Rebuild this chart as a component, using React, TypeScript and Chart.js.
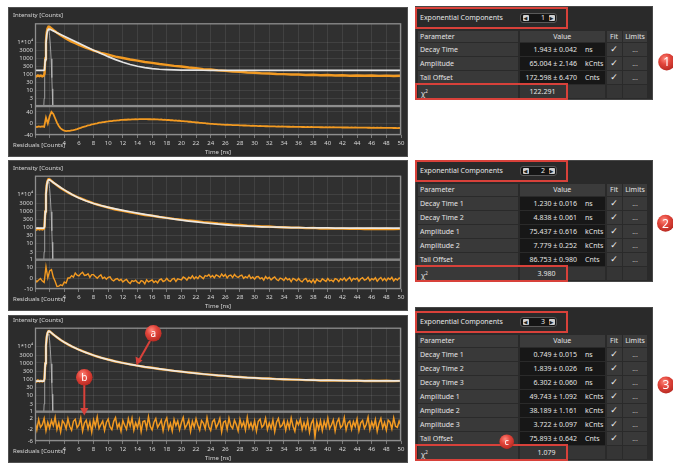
import React, { useEffect, useRef } from "react";
import { Chart, registerables } from "chart.js";

Chart.register(...registerables);

// ---------- measured decay (counts), shared by all three fits ----------
const decayTime = [
  0, 0.2, 0.4, 0.6, 0.8, 1, 1.2,
  1.3, 1.4, 1.5, 1.6, 1.7, 1.8, 1.9, 2,
  2.25, 2.5, 2.75,
  3, 3.5, 4, 4.5, 5, 5.5, 6, 6.5, 7, 7.5, 8, 8.5, 9, 9.5, 10,
  11, 12, 13, 14, 15, 16, 17, 18, 19, 20,
  21, 22, 23, 24, 25, 26, 27, 28, 29, 30,
  31, 32, 33, 34, 35, 36, 37, 38, 39, 40,
  41, 42, 43, 44, 45, 46, 47, 48, 49, 50,
];
const decayCounts = [
  78, 71, 83, 74, 80, 72, 79,
  110, 950, 11500, 41000, 69000, 85000, 91000, 89000,
  72500, 57500, 47200,
  38600, 26500, 19200, 14100, 10700, 8450, 6580, 5360, 4310, 3600, 2960, 2520, 2140, 1870, 1640,
  1240, 1020, 815, 695, 570, 505, 428, 380, 326, 296,
  257, 236, 205, 192, 170, 160, 143, 138, 125, 121,
  111, 110, 101, 100, 94, 95, 88, 91, 84, 87,
  82, 84, 79, 82, 78, 81, 77, 80, 76, 79,
];

// ---------- instrument response ----------
const irfTime = [1.2, 1.25, 1.3, 1.35, 1.4, 1.5, 1.6, 1.7, 1.8, 1.9, 2.0, 2.1, 2.2, 2.3, 2.35, 2.4, 2.45];
const irfCounts = [1, 3, 25, 150, 600, 5000, 21000, 47000, 60000, 50000, 25000, 6500, 900, 60, 12, 2.5, 1];

// ---------- fitted curves (same time grid as the decay) ----------
const fitOneExp = [
  173, 173, 173, 173, 173, 173, 173,
  185, 800, 8200, 29500, 50000, 61500, 65500, 65000,
  57300, 50400, 44360,
  39030, 30210, 23400, 18130, 14050, 10900, 8470, 6590, 5130, 4010, 3140, 2462, 1943, 1543, 1231,
  806, 551, 399, 308, 254, 221, 201, 190, 183, 179,
  176, 175, 174, 173, 173, 173, 173, 173, 173, 173,
  173, 173, 173, 173, 173, 173, 173, 173, 173, 173,
  173, 173, 173, 173, 173, 173, 173, 173, 173, 173,
];
const fitTwoExp = [
  87, 87, 87, 87, 87, 87, 87,
  105, 920, 10500, 38000, 63000, 77000, 83000, 83300,
  69000, 57350, 47750,
  39870, 28080, 20070, 14610, 10850, 8240, 6410, 5100, 4150, 3445, 2911, 2499, 2172, 1908, 1688,
  1347, 1093, 897, 742, 619, 517, 437, 372, 319, 275,
  240, 211, 188, 169, 154, 141, 131, 123, 116, 111,
  106, 103, 100, 97, 95, 94, 93, 91, 91, 90,
  89, 89, 88, 88, 88, 87, 87, 87, 87, 87,
];
const fitThreeExp = [
  76, 76, 76, 76, 76, 76, 76,
  105, 950, 11500, 41000, 69000, 85000, 91000, 90000,
  72600, 58130, 47050,
  38510, 26620, 19100, 14150, 10770, 8370, 6630, 5320, 4340, 3580, 2990, 2526, 2155, 1855, 1615,
  1255, 1004, 822, 687, 581, 499, 432, 376, 331, 292,
  260, 232, 209, 189, 173, 159, 146, 136, 127, 120,
  113, 108, 103, 99, 96, 93, 90, 88, 86, 85,
  84, 82, 82, 81, 80, 79, 79, 78, 78, 78,
];

// ---------- weighted residuals, one value per 0.25 ns channel ----------
const RES_STEP = 0.25;
const residualsOneExp = [
  -11, -12.5, -10, -11.5, -10.5, -12, 20, 0,
  25, 40, 33, 18, 3, -9, -17, -22,
  -25, -26.5, -26, -25.5, -24, -23, -21.5, -19.5,
  -17, -15.5, -12.5, -11, -9.5, -6.5, -5.5, -3.5,
  -2.5, -0.5, 0.5, 2.5, 3, 4.5, 5, 6.5,
  7, 8.3, 8.2, 9.8, 10, 10.9, 11, 12,
  12, 12.9, 12.8, 13.6, 13.3, 14.2, 13.8, 14.7,
  14.3, 15, 14.6, 15.2, 14.6, 15.1, 14.4, 14.9,
  14.2, 14.7, 13.8, 14.2, 13.3, 13.6, 12.6, 12.8,
  11.8, 12, 11, 11.1, 10, 10.2, 9.2, 9.3,
  8.2, 8.2, 7, 7, 5.8, 5.8, 4.6, 4.5,
  3.3, 3.3, 2, 1.9, 0.8, 0.8, -0.3, -0.4,
  -1.2, -1.3, -2.2, -2.1, -3.1, -3.2, -3.9, -3.9,
  -4.7, -4.6, -5.2, -5.1, -5.7, -5.6, -6.2, -6.1,
  -6.7, -6.6, -7.2, -7, -7.7, -7.6, -8.2, -8.1,
  -8.7, -8.5, -9.1, -8.9, -9.5, -9.3, -9.8, -9.6,
  -10.2, -9.9, -10.5, -10.2, -10.7, -10.5, -11, -10.7,
  -11.2, -11, -11.5, -11.2, -11.7, -11.5, -12, -11.7,
  -12.2, -11.9, -12.4, -12.1, -12.6, -12.3, -12.8, -12.4,
  -12.9, -12.6, -13.1, -12.8, -13.2, -12.9, -13.3, -13,
  -13.4, -13.1, -13.6, -13.2, -13.7, -13.4, -13.8, -13.5,
  -14, -13.7, -14.1, -13.8, -14.3, -13.9, -14.4, -14.1,
  -14.5, -14.2, -14.7, -14.3, -14.8, -14.5, -15, -14.6,
  -15.1, -14.8, -15.2, -14.9, -15.4, -15, -15.5, -15.2,
  -15.6, -15.3, -15.7, -15.4, -15.8, -15.5, -15.9, -15.6,
  -15.8,
];
const residualsTwoExp = [
  -1.1, -3.4, -1.7, -0.4, -2.7, -3.9, 10.5, 0.2,
  6.7, 7.8, 0.9, -2.8, -7.6, -7.3, -6.1, -6.9,
  -3.6, -4.5, 0.1, 0.1, 2.3, 1.0, 4.7, 2.7,
  2.0, 4.1, 5.4, 2.5, 2.9, 4.1, 0.7, 3.2,
  3.2, 1.4, -0.2, 1.8, 3.0, -0.3, 0.8, -1.1,
  0.7, 1.2, -1.5, -2.5, -1.0, -0.4, -2.3, -1.1,
  -3.5, -2.1, -1.1, -3.5, -4.9, -2.3, -3.1, -1.9,
  -3.9, -4.8, -2.3, -3.0, -5.3, -1.5, -3.5, -2.5,
  -1.7, -4.0, -2.6, -4.4, -1.6, -0.8, -3.1, -2.3,
  -0.2, -2.4, -3.0, -0.8, -0.2, -3.1, -0.6, -1.2,
  -1.7, 1.0, 0.0, -1.9, 0.8, -0.3, 2.2, -0.7,
  1.2, -0.5, 2.2, 0.9, -0.5, 2.3, 1.7, 3.2,
  0.9, 2.4, 0.3, 3.0, 2.1, 0.8, 3.8, 1.5,
  3.4, 0.1, 2.3, 2.8, 0.5, 3.4, 1.5, 0.6,
  2.1, 2.7, -0.2, 1.3, 0.3, 2.8, -0.3, 1.1,
  -1.0, 1.3, 1.5, -0.6, 0.4, -1.8, 1.4, -0.6,
  0.7, -1.7, 0.0, 1.1, -1.3, -2.3, 0.0, -0.7,
  -2.2, 0.5, -1.5, -0.6, -3.3, -0.3, -1.2, -2.5,
  -0.3, -2.4, -3.4, -1.2, -0.2, -3.2, -2.0, -4.0,
  -1.4, -4.4, -1.0, -2.6, -3.3, -0.6, -1.8, -3.0,
  -0.3, -2.6, -1.7, -3.2, -0.4, -1.0, -3.2, -0.5,
  -1.9, 0.2, -2.5, -0.8, 0.7, -2.6, -0.3, -1.2,
  0.1, -2.8, -0.6, 0.5, -1.9, -1.1, 0.9, -2.4,
  -0.4, -1.5, 0.3, -2.9, -0.8, 0.6, -2.2, -0.2,
  -2.5, 0.0, -1.3, 0.7, -2.6, -0.6, -1.8, 0.2,
  -1.3,
];
const residualsThreeExp = [
  0.8, -2.1, 1.5, -1.2, -0.3, 1.9, -2.4, 0.6,
  -1.5, 1.2, -0.6, 2.3, -1.9, 0.4, -2.8, 1.1,
  0.2, -1.7, 1.8, -0.9, -2.2, 0.9, 1.6, -1.3,
  -0.4, 2.1, -2.5, 0.3, 1.3, -1.8, 0.7, -2.9,
  1.4, -0.8, 2.4, -1.6, -0.2, 1.0, -2.3, 0.5,
  1.7, -1.1, -2.0, 0.9, 2.2, -1.4, 0.1, -2.6,
  1.2, -0.5, -1.9, 1.8, -0.7, 2.0, -2.2, 0.4,
  -1.3, 1.5, -2.7, 0.8, 1.1, -1.6, 2.5, -0.9,
  -2.1, 0.6, 1.9, -1.2, -0.1, 1.3, -2.4, 0.7,
  2.1, -1.8, 0.2, -2.5, 1.6, -0.6, 1.0, -2.0,
  0.5, 2.3, -1.5, -0.3, 1.4, -2.6, 0.9, -1.1,
  1.8, -0.4, -2.2, 1.2, 0.3, -1.7, 2.2, -1.0,
  -2.3, 0.8, 1.5, -1.4, 0.0, 1.9, -2.8, 0.6,
  1.0, -1.9, 2.0, -0.7, -1.6, 1.3, -0.2, -2.4,
  1.6, -0.9, 0.7, -2.1, 2.3, -1.3, 0.4, -1.8,
  1.1, -2.5, 0.9, 1.7, -1.2, -0.4, 2.0, -2.0,
  0.3, -1.5, 1.4, -2.7, 0.6, 1.9, -1.1, -0.5,
  1.2, -2.2, 0.8, -1.4, 2.1, -0.8, -2.6, 1.0,
  -0.3, 1.6, -2.0, 0.5, -1.7, 1.3, -2.9, 0.2,
  1.5, -4.6, 0.7, -1.8, 1.1, -2.3, 0.9, -1.2,
  2.0, -1.6, -0.4, 1.4, -2.5, 0.6, 1.8, -1.3,
  -0.6, 2.2, -2.1, 0.3, 1.0, -1.9, 0.8, -0.9,
  1.7, -2.4, 0.4, 1.2, -1.5, -0.2, 2.3, -2.0,
  0.7, -1.1, 1.5, -2.6, 0.2, 1.9, -1.4, 0.5,
  -2.2, 1.3, 0.6, -1.7, 2.1, -0.8, -1.2, 1.0,
  -0.5,
];

// ---------- axis ticks ----------
const intensityTicks = [1, 3, 10, 30, 100, 300, 1000, 3000, 10000];
const residualTicksOneExp = [-40, 0, 40];
const residualTicksTwoExp = [-10, 0, 10];
const residualTicksThreeExp = [-6, -2, 2];

// ---------- fit parameter tables ----------
const paramNames1 = ["Decay Time", "Amplitude", "Tail Offset"];
const paramValues1 = ["1.943 ± 0.042", "65.004 ± 2.146", "172.598 ± 6.470"];
const paramUnits1 = ["ns", "kCnts", "Cnts"];
const chiSquare1 = "122.291";

const paramNames2 = ["Decay Time 1", "Decay Time 2", "Amplitude 1", "Amplitude 2", "Tail Offset"];
const paramValues2 = ["1.230 ± 0.016", "4.838 ± 0.061", "75.437 ± 0.616", "7.779 ± 0.252", "86.753 ± 0.980"];
const paramUnits2 = ["ns", "ns", "kCnts", "kCnts", "Cnts"];
const chiSquare2 = "3.980";

const paramNames3 = ["Decay Time 1", "Decay Time 2", "Decay Time 3", "Amplitude 1", "Amplitude 2", "Amplitude 3", "Tail Offset"];
const paramValues3 = ["0.749 ± 0.015", "1.839 ± 0.026", "6.302 ± 0.060", "49.743 ± 1.092", "38.189 ± 1.161", "3.722 ± 0.097", "75.893 ± 0.642"];
const paramUnits3 = ["ns", "ns", "ns", "kCnts", "kCnts", "kCnts", "Cnts"];
const chiSquare3 = "1.079";

// ---------- styling ----------
const PANEL_BG = "#2c2c2c";
const PLOT_BG = "#303030";
const GRID = "rgba(255,255,255,0.085)";
const FRAME = "#8e8e8e";
const ORANGE = "#f29a22";
const FIT_WHITE = "rgba(236,236,236,0.95)";
const IRF_GREY = "rgba(185,185,185,0.8)";
const AXIS_TEXT = "#d6d6d6";
const RED = "#d8413a";
const CHART_FONT = '"Noto Sans", "DejaVu Sans", sans-serif';

const toPoints = (xs: number[], ys: number[]) => ys.map((y, i) => ({ x: xs[i], y }));
const residualPoints = (ys: number[]) => ys.map((y, i) => ({ x: i * RES_STEP, y }));

const tenToFour = (v: number) => (v === 10000 ? "1*10\u2074" : String(v));

// Plot background, frames around the two stacked plots and the axis captions
const panelDecor = {
  id: "panelDecor",
  beforeDraw(chart: any) {
    const { ctx, chartArea: a } = chart;
    ctx.save();
    ctx.fillStyle = PLOT_BG;
    ctx.fillRect(a.left, a.top, a.right - a.left, a.bottom - a.top);
    ctx.restore();
  },
  afterDraw(chart: any, _args: any, opts: any) {
    const { ctx, chartArea: a, scales } = chart;
    const yI = scales.y;
    const yR = scales.yRes;
    ctx.save();
    ctx.strokeStyle = FRAME;
    ctx.lineWidth = 1.3;
    ctx.strokeRect(a.left + 0.5, yI.top + 0.5, a.right - a.left - 1, yI.bottom - yI.top - 1);
    ctx.strokeRect(a.left + 0.5, yR.top + 0.5, a.right - a.left - 1, yR.bottom - yR.top - 1);
    ctx.fillStyle = AXIS_TEXT;
    ctx.font = `6px ${CHART_FONT}`;
    ctx.textBaseline = "middle";
    ctx.textAlign = "left";
    ctx.fillText("Intensity [Counts]", 5, opts.titleY);
    ctx.fillText("Residuals [Counts]", 5, a.bottom + 10);
    ctx.textAlign = "center";
    ctx.fillText("Time [ns]", (a.left + a.right) / 2, a.bottom + 17);
    ctx.restore();
  },
};

type ChartProps = {
  left: number;
  top: number;
  width: number;
  height: number;
  padTop: number;
  titleY: number;
  fit: number[];
  residuals: number[];
  resWidth: number;
  resMin: number;
  resMax: number;
  resTicks: number[];
};

function DecayChart(p: ChartProps) {
  const ref = useRef<HTMLCanvasElement>(null);
  useEffect(() => {
    const tickFont = { family: CHART_FONT, size: 6 };
    const chart = new Chart(ref.current as HTMLCanvasElement, {
      type: "line",
      data: {
        datasets: [
          {
            label: "Fit",
            data: toPoints(decayTime, p.fit),
            yAxisID: "y",
            borderColor: FIT_WHITE,
            borderWidth: 1.7,
            pointRadius: 0,
          },
          {
            label: "Decay",
            data: toPoints(decayTime, decayCounts),
            yAxisID: "y",
            borderColor: ORANGE,
            borderWidth: 2.4,
            pointRadius: 0,
          },
          {
            label: "IRF",
            data: toPoints(irfTime, irfCounts),
            yAxisID: "y",
            borderColor: IRF_GREY,
            borderWidth: 1,
            pointRadius: 0,
          },
          {
            label: "Residuals",
            data: residualPoints(p.residuals),
            yAxisID: "yRes",
            borderColor: ORANGE,
            borderWidth: p.resWidth,
            pointRadius: 0,
          },
        ],
      },
      options: {
        responsive: false,
        animation: false,
        events: [],
        layout: { padding: { left: 0, right: 7, top: p.padTop, bottom: 0 } },
        elements: { line: { tension: 0 } },
        plugins: {
          legend: { display: false },
          tooltip: { enabled: false },
          panelDecor: { titleY: p.titleY },
        } as any,
        scales: {
          x: {
            type: "linear",
            position: "bottom",
            min: 0,
            max: 50,
            border: { display: false },
            grid: { color: GRID, tickLength: 3, tickColor: "#777" },
            ticks: {
              stepSize: 2,
              autoSkip: false,
              maxRotation: 0,
              padding: 2,
              color: AXIS_TEXT,
              font: tickFont,
              callback: (v: any) => (Number(v) < 4 ? "" : String(v)),
            },
            afterFit: (s: any) => {
              s.height = 22;
            },
          },
          y: {
            type: "logarithmic",
            position: "left",
            stack: "tcspc",
            stackWeight: 83,
            weight: 1,
            min: 1,
            max: 150000,
            border: { display: false },
            grid: { color: GRID, drawTicks: false },
            ticks: {
              autoSkip: false,
              padding: 2,
              color: AXIS_TEXT,
              font: tickFont,
              callback: (v: any) => tenToFour(Number(v)),
            },
            afterBuildTicks: (s: any) => {
              s.ticks = intensityTicks.map((value) => ({ value }));
            },
            afterFit: (s: any) => {
              s.width = 27;
            },
          },
          yRes: {
            type: "linear",
            axis: "y",
            position: "left",
            stack: "tcspc",
            stackWeight: 29,
            weight: 0,
            min: p.resMin,
            max: p.resMax,
            border: { display: false },
            grid: { color: GRID, drawTicks: false },
            ticks: { autoSkip: false, padding: 2, color: AXIS_TEXT, font: tickFont },
            afterBuildTicks: (s: any) => {
              s.ticks = p.resTicks.map((value) => ({ value }));
            },
            afterFit: (s: any) => {
              s.width = 27;
            },
          },
        } as any,
      },
      plugins: [panelDecor as any],
    });
    return () => chart.destroy();
  }, []);
  return (
    <div
      style={{
        position: "absolute",
        left: p.left,
        top: p.top,
        width: p.width,
        height: p.height,
        background: PANEL_BG,
        boxShadow: "inset 0 0 0 1px #505050",
      }}
    >
      <canvas ref={ref} width={p.width} height={p.height} style={{ display: "block" }} />
    </div>
  );
}

// ---------- parameter table ----------
const TABLE_FONT = '"Noto Sans", "DejaVu Sans", sans-serif';
const COL_PARAM = { x: 3, w: 100 };
const COL_VALUE = { x: 104.5, w: 85.5 };
const COL_FIT = { x: 191.5, w: 15 };
const COL_LIMITS = { x: 208, w: 24 };

type TableProps = {
  top: number;
  padTop: number;
  count: number;
  names: string[];
  values: string[];
  units: string[];
  chi: string;
};

function Cell(props: { x: number; y: number; w: number; h: number; bg: string; children?: any; align?: string; pad?: number }) {
  return (
    <div
      style={{
        position: "absolute",
        left: props.x,
        top: props.y,
        width: props.w,
        height: props.h,
        background: props.bg,
        color: "#e4e4e4",
        fontSize: 7,
        lineHeight: `${props.h}px`,
        textAlign: (props.align as any) || "left",
        paddingLeft: props.pad || 0,
        boxSizing: "border-box",
        whiteSpace: "nowrap",
        overflow: "hidden",
      }}
    >
      {props.children}
    </div>
  );
}

function ParamTable(p: TableProps) {
  const n = p.names.length;
  const headTop = p.padTop + 24;
  const rowsTop = p.padTop + 36.5;
  const height = rowsTop + (n + 1) * 14 + 1;
  const chiTop = rowsTop + n * 14;
  const cells: any[] = [];
  cells.push(
    <Cell key="h0" x={COL_PARAM.x} y={headTop} w={COL_PARAM.w} h={11.5} bg="#3b3b3b" pad={2}>Parameter</Cell>,
    <Cell key="h1" x={COL_VALUE.x} y={headTop} w={COL_VALUE.w} h={11.5} bg="#3b3b3b" align="center">Value</Cell>,
    <Cell key="h2" x={COL_FIT.x} y={headTop} w={COL_FIT.w} h={11.5} bg="#3b3b3b" align="center">Fit</Cell>,
    <Cell key="h3" x={COL_LIMITS.x} y={headTop} w={COL_LIMITS.w} h={11.5} bg="#3b3b3b" align="center">Limits</Cell>
  );
  p.names.forEach((name, i) => {
    const y = rowsTop + i * 14;
    cells.push(
      <Cell key={`n${i}`} x={COL_PARAM.x} y={y} w={COL_PARAM.w} h={13} bg="#393939" pad={2}>{name}</Cell>,
      <div
        key={`v${i}`}
        style={{
          position: "absolute",
          left: COL_VALUE.x,
          top: y,
          width: COL_VALUE.w,
          height: 13,
          background: "#171717",
          color: "#e4e4e4",
          fontSize: 7,
          lineHeight: "13px",
          whiteSpace: "nowrap",
        }}
      >
        <span style={{ position: "absolute", right: COL_VALUE.w - 57.5 }}>{p.values[i]}</span>
        <span style={{ position: "absolute", left: 65.5 }}>{p.units[i]}</span>
      </div>,
      <Cell key={`f${i}`} x={COL_FIT.x} y={y} w={COL_FIT.w} h={13} bg="#393939" align="center">
        <span style={{ fontSize: 9, fontFamily: '"DejaVu Sans", sans-serif', color: "#f2f2f2" }}>{"\u2713"}</span>
      </Cell>,
      <Cell key={`l${i}`} x={COL_LIMITS.x} y={y} w={COL_LIMITS.w} h={13} bg="#393939" align="center">
        <span style={{ color: "#bdbdbd" }}>...</span>
      </Cell>
    );
  });
  cells.push(
    <Cell key="c0" x={COL_PARAM.x} y={chiTop} w={COL_PARAM.w} h={13} bg="#393939" pad={3}>
      <span>{"\u03c7"}</span>
      <sup style={{ fontSize: 4.5 }}>2</sup>
    </Cell>,
    <div
      key="c1"
      style={{
        position: "absolute",
        left: COL_VALUE.x,
        top: chiTop,
        width: COL_VALUE.w,
        height: 13,
        background: "#353535",
        color: "#e4e4e4",
        fontSize: 7,
        lineHeight: "13px",
      }}
    >
      <span style={{ position: "absolute", right: COL_VALUE.w - 36 }}>{p.chi}</span>
    </div>,
    <Cell key="c2" x={COL_FIT.x} y={chiTop} w={COL_FIT.w} h={13} bg="#353535" />,
    <Cell key="c3" x={COL_LIMITS.x} y={chiTop} w={COL_LIMITS.w} h={13} bg="#353535" />
  );

  return (
    <div
      style={{
        position: "absolute",
        left: 415,
        top: p.top,
        width: 238,
        height,
        background: "#2a2a2a",
        boxShadow: "inset 0 0 0 1px #474747",
        fontFamily: TABLE_FONT,
      }}
    >
      <div
        style={{
          position: "absolute",
          left: 5,
          top: p.padTop,
          height: 22,
          lineHeight: "22px",
          fontSize: 7,
          color: "#e6e6e6",
        }}
      >
        Exponential Components
      </div>
      {/* component count spinner */}
      <div
        style={{
          position: "absolute",
          left: 105,
          top: p.padTop + 6,
          width: 37,
          height: 10,
          background: "#151515",
          border: "1px solid #5a5a5a",
          borderRadius: 3,
          boxSizing: "border-box",
        }}
      >
        <div style={{ position: "absolute", left: 1.5, top: 1, width: 6, height: 6, background: "#cfcfcf", borderRadius: 1, fontSize: 5, lineHeight: "6px", textAlign: "center", color: "#222" }}>{"\u25c0"}</div>
        <div style={{ position: "absolute", right: 11, top: 0, fontSize: 7, lineHeight: "8px", color: "#eaeaea" }}>{p.count}</div>
        <div style={{ position: "absolute", right: 1.5, top: 1, width: 6, height: 6, background: "#cfcfcf", borderRadius: 1, fontSize: 5, lineHeight: "6px", textAlign: "center", color: "#222" }}>{"\u25b6"}</div>
      </div>
      {cells}
      {/* highlight boxes */}
      <div style={{ position: "absolute", left: 0, top: p.padTop, width: 153, height: 22, border: `2px solid ${RED}`, boxSizing: "border-box" }} />
      <div style={{ position: "absolute", left: 0, top: chiTop - 2, width: 153, height: 17, border: `2px solid ${RED}`, boxSizing: "border-box" }} />
    </div>
  );
}

// ---------- red call-out markers ----------
function Marker(props: { cx: number; cy: number; r: number; label: string; size: number }) {
  return (
    <g>
      <circle cx={props.cx} cy={props.cy} r={props.r} fill="url(#redGloss)" />
      <text
        x={props.cx}
        y={props.cy + props.size * 0.36}
        textAnchor="middle"
        fontSize={props.size}
        fill="#ffffff"
        fontFamily={TABLE_FONT}
      >
        {props.label}
      </text>
    </g>
  );
}

function Callouts() {
  return (
    <svg
      width={673}
      height={463}
      style={{ position: "absolute", left: 0, top: 0, pointerEvents: "none" }}
    >
      <defs>
        <radialGradient id="redGloss" cx="40%" cy="32%" r="70%">
          <stop offset="0%" stopColor="#ff8a7e" />
          <stop offset="45%" stopColor="#e2463c" />
          <stop offset="100%" stopColor="#b82a22" />
        </radialGradient>
      </defs>
      {/* arrow a */}
      <line x1={150} y1={341} x2={139.5} y2={359.5} stroke={RED} strokeWidth={2} />
      <polygon points="136.5,365 135.5,356.5 142.5,360.5" fill={RED} />
      {/* arrow b */}
      <line x1={84.3} y1={385} x2={84.3} y2={409} stroke={RED} strokeWidth={2} />
      <polygon points="84.3,415.5 80.3,408 88.3,408" fill={RED} />
      <Marker cx={153.3} cy={333.3} r={8.3} label="a" size={10} />
      <Marker cx={84.3} cy={377.3} r={8.3} label="b" size={10} />
      <Marker cx={506.7} cy={441.7} r={7.3} label="c" size={9} />
      <Marker cx={666.7} cy={62} r={8.5} label="1" size={12} />
      <Marker cx={665.5} cy={223.3} r={8.5} label="2" size={12} />
      <Marker cx={666} cy={385} r={8.5} label="3" size={12} />
    </svg>
  );
}

export default function App() {
  return (
    <div
      style={{
        position: "absolute",
        left: 0,
        top: 0,
        width: 673,
        height: 463,
        background: "#ffffff",
        overflow: "hidden",
        fontFamily: TABLE_FONT,
      }}
    >
      <DecayChart
        left={8}
        top={7}
        width={400}
        height={150}
        padTop={16.3}
        titleY={8}
        fit={fitOneExp}
        residuals={residualsOneExp}
        resWidth={1.8}
        resMin={-40}
        resMax={60}
        resTicks={residualTicksOneExp}
      />
      <DecayChart
        left={8}
        top={160}
        width={400}
        height={151}
        padTop={15.7}
        titleY={8}
        fit={fitTwoExp}
        residuals={residualsTwoExp}
        resWidth={1.4}
        resMin={-10}
        resMax={17}
        resTicks={residualTicksTwoExp}
      />
      <DecayChart
        left={8}
        top={315}
        width={400}
        height={148}
        padTop={12.7}
        titleY={5}
        fit={fitThreeExp}
        residuals={residualsThreeExp}
        resWidth={1.5}
        resMin={-6}
        resMax={4.3}
        resTicks={residualTicksThreeExp}
      />
      <ParamTable top={6} padTop={0.5} count={1} names={paramNames1} values={paramValues1} units={paramUnits1} chi={chiSquare1} />
      <ParamTable top={160} padTop={0} count={2} names={paramNames2} values={paramValues2} units={paramUnits2} chi={chiSquare2} />
      <ParamTable top={307} padTop={4} count={3} names={paramNames3} values={paramValues3} units={paramUnits3} chi={chiSquare3} />
      <Callouts />
    </div>
  );
}
